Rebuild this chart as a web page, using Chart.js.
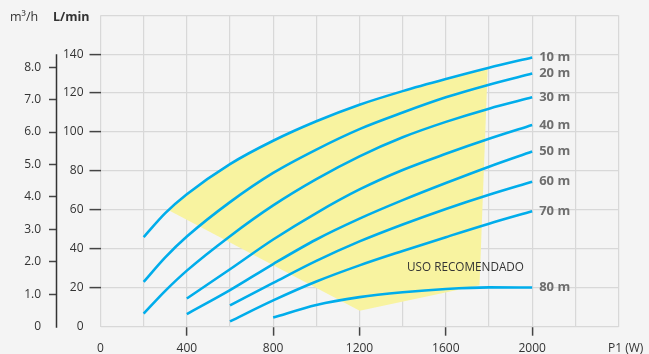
<!DOCTYPE html>
<html>
<head>
<meta charset="utf-8">
<script src="https://cdn.jsdelivr.net/npm/chart.js@4.4.1/dist/chart.umd.min.js"></script>
<style>
    html, body { margin: 0; padding: 0; background: #f4f4f4; }
    #wrap { width: 649px; height: 354px; }
</style>
</head>
<body>
<div id="wrap"><canvas id="pumpChart" width="649" height="354"></canvas></div>
<script>
// Pump curves: power input P1 (W) against flow (L/min), one list per head
const headLabels = ['10 m', '20 m', '30 m', '40 m', '50 m', '60 m', '70 m', '80 m'];

const head10 = [[200, 46], [300, 58.3], [400, 68], [600, 83.5], [800, 95.5], [1000, 105.5], [1200, 114], [1400, 121], [1600, 127.2], [1800, 133], [2000, 138.3]];
const head20 = [[200, 23], [300, 35.6], [400, 46.3], [600, 64], [800, 79], [1000, 91], [1200, 101.5], [1400, 110], [1600, 117.8], [1800, 124.3], [2000, 130]];
const head30 = [[200, 6.7], [300, 18.4], [400, 28.8], [600, 46.5], [800, 62.3], [1000, 75.8], [1200, 87.5], [1400, 97.3], [1600, 105.2], [1800, 112], [2000, 117.8]];
const head40 = [[400, 14.5], [600, 29.5], [800, 44.8], [1000, 58.4], [1200, 70.5], [1400, 80.5], [1600, 88.8], [1800, 96.5], [2000, 103.6]];
const head50 = [[400, 6.5], [600, 18.8], [800, 32.2], [1000, 44.8], [1200, 55.5], [1400, 65], [1600, 73.8], [1800, 82.2], [2000, 90]];
const head60 = [[600, 11], [800, 22.5], [1000, 33.8], [1200, 43.8], [1400, 52.5], [1600, 60.5], [1800, 67.8], [2000, 74.5]];
const head70 = [[600, 2.7], [800, 13.5], [1000, 23.2], [1200, 31.5], [1400, 38.9], [1600, 46], [1800, 52.9], [2000, 59.3]];
const head80 = [[800, 4.7], [1000, 11.2], [1200, 15.2], [1400, 17.7], [1600, 19.4], [1800, 20.2], [2000, 20.1]];

// "USO RECOMENDADO" area, corners in W / L/min
const recommendedArea = [[316, 59.8], [400, 68], [600, 83.5], [800, 95.5], [1000, 105.5], [1200, 114], [1400, 121], [1600, 127.2], [1794, 132.7], [1756, 21.3], [1201, 8.2], [316, 59.8]];

// tick labels
const powerTicks = [0, 400, 800, 1200, 1600, 2000];
const lminTicks = [0, 20, 40, 60, 80, 100, 120, 140];
const m3hTicks = [0, 1, 2, 3, 4, 5, 6, 7, 8];

const LMIN_PER_M3H = 1000 / 60;
const usoLabelAt = { x: 1420, y: 28.6 };

const curveColor = '#00adeb';
const gridColor = '#d8d8d8';
const textColor = '#333333';

const allHeads = [head10, head20, head30, head40, head50, head60, head70, head80];
const toPoints = pairs => pairs.map(p => ({ x: p[0], y: p[1] }));

const datasets = allHeads.map((pairs, i) => ({
    label: headLabels[i],
    data: toPoints(pairs),
    borderColor: curveColor,
    borderWidth: 2.6,
    pointRadius: 0,
    cubicInterpolationMode: 'monotone',
    fill: false,
    order: 1,
}));

datasets.push({
    label: 'area',
    data: toPoints(recommendedArea),
    borderWidth: 0,
    borderColor: 'rgba(0,0,0,0)',
    backgroundColor: '#f8f3a0',
    pointRadius: 0,
    tension: 0,
    fill: 'shape',
    order: 2,
});

const tickFont = { family: 'Open Sans', size: 12 };

// texts and the m3/h axis line
const extrasPlugin = {
    id: 'extras',
    afterDatasetsDraw(chart) {
        const ctx = chart.ctx;
        const xs = chart.scales.x;
        const ys = chart.scales.y;
        const y2 = chart.scales.y2;
        ctx.save();

        // curve end labels
        ctx.font = 'bold 13px "Open Sans"';
        ctx.fillStyle = '#6e6e6e';
        ctx.textAlign = 'left';
        ctx.textBaseline = 'middle';
        headLabels.forEach((lbl, i) => {
            const pts = chart.getDatasetMeta(i).data;
            const last = pts[pts.length - 1];
            ctx.fillText(lbl, last.x + 7, last.y);
        });

        // recommended use label (condensed)
        ctx.font = '13.5px "Open Sans"';
        ctx.fillStyle = textColor;
        ctx.textBaseline = 'alphabetic';
        const uso = 'USO RECOMENDADO';
        const ux = xs.getPixelForValue(usoLabelAt.x);
        const uy = ys.getPixelForValue(usoLabelAt.y);
        const w = ctx.measureText(uso).width;
        ctx.translate(ux, uy);
        ctx.scale(117 / w, 1);
        ctx.fillText(uso, 0, 0);
        ctx.setTransform(1, 0, 0, 1, 0, 0);

        // axis titles
        ctx.textBaseline = 'middle';
        ctx.font = '12.5px "Open Sans"';
        ctx.fillText('m\u00b3/h', 10, 17);
        ctx.font = 'bold 12.5px "Open Sans"';
        ctx.fillText('L/min', 53, 17);
        ctx.font = '12px "Open Sans"';
        ctx.fillText('P1 (W)', 608, 349);

        // m3/h axis line
        ctx.strokeStyle = textColor;
        ctx.lineWidth = 1.5;
        ctx.beginPath();
        ctx.moveTo(y2.right - 0.5, ys.getPixelForValue(140));
        ctx.lineTo(y2.right - 0.5, ys.getPixelForValue(0) + 1);
        ctx.stroke();

        ctx.restore();
    }
};

new Chart(document.getElementById('pumpChart'), {
    type: 'line',
    data: { datasets: datasets },
    options: {
        responsive: false,
        animation: false,
        devicePixelRatio: 1,
        layout: { padding: { left: 0, top: 13, right: 30.5, bottom: 0 } },
        plugins: {
            legend: { display: false },
            tooltip: { enabled: false },
        },
        scales: {
            x: {
                type: 'linear',
                position: 'bottom',
                min: 0,
                max: 2400,
                afterFit: s => { s.height = 27.3; },
                ticks: {
                    stepSize: 200,
                    autoSkip: false,
                    maxRotation: 0,
                    padding: 6,
                    color: textColor,
                    font: tickFont,
                    callback: v => powerTicks.includes(v) ? String(v) : '',
                },
                grid: {
                    color: gridColor,
                    lineWidth: 1.2,
                    tickLength: 9,
                    tickWidth: 1.5,
                    tickColor: c => (c.tick && c.tick.value > 0 && powerTicks.includes(c.tick.value)) ? '#444' : 'rgba(0,0,0,0)',
                },
                border: { display: false },
            },
            y: {
                type: 'linear',
                position: 'left',
                weight: 0,
                min: 0,
                max: 160,
                afterFit: s => { s.width = 43.5; },
                ticks: {
                    stepSize: 20,
                    padding: 6,
                    color: textColor,
                    font: tickFont,
                    callback: v => lminTicks.includes(v) ? String(v) : '',
                },
                grid: {
                    color: gridColor,
                    lineWidth: 1.2,
                    tickLength: 11,
                    tickWidth: 1.5,
                    tickColor: c => (c.tick && c.tick.value > 0 && lminTicks.includes(c.tick.value)) ? '#444' : 'rgba(0,0,0,0)',
                },
                border: { display: false },
            },
            y2: {
                type: 'linear',
                position: 'left',
                weight: 1,
                min: 0,
                max: 160 / LMIN_PER_M3H,
                afterFit: s => { s.width = 57; },
                afterBuildTicks: s => { s.ticks = m3hTicks.map(v => ({ value: v })); },
                ticks: {
                    padding: 8,
                    color: textColor,
                    font: tickFont,
                    callback: v => v === 0 ? '0' : v.toFixed(1),
                },
                grid: {
                    drawOnChartArea: false,
                    tickLength: 8,
                    tickWidth: 1.5,
                    tickColor: c => (c.tick && c.tick.value > 0) ? '#444' : 'rgba(0,0,0,0)',
                },
                border: { display: false },
            },
        },
    },
    plugins: [extrasPlugin],
});
</script>
</body>
</html>
